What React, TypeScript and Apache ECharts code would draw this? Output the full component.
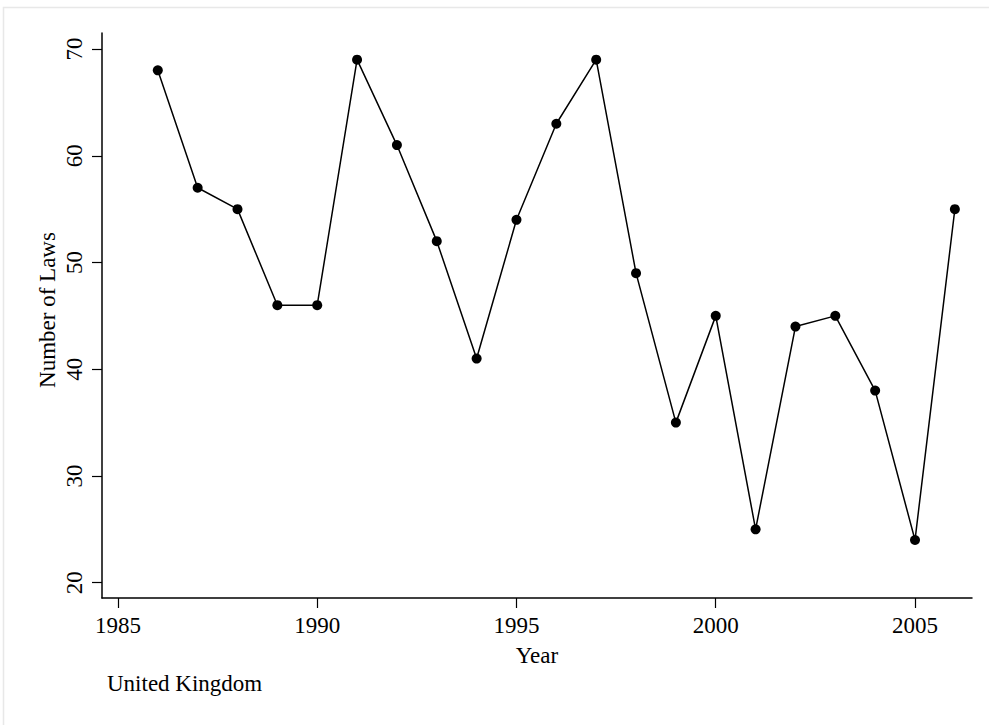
import React, { useEffect, useRef } from "react";
import * as echarts from "echarts";

const years = [1986, 1987, 1988, 1989, 1990, 1991, 1992, 1993, 1994, 1995, 1996, 1997, 1998, 1999, 2000, 2001, 2002, 2003, 2004, 2005, 2006];
const laws = [68, 57, 55, 46, 46, 69, 61, 52, 41, 54, 63, 69, 49, 35, 45, 25, 44, 45, 38, 24, 55];
const xTicks = [1985, 1990, 1995, 2000, 2005];
const yTicks = [20, 30, 40, 50, 60, 70];

const FONT = "'Liberation Serif', 'Times New Roman', serif";

export default function App() {
  const ref = useRef<HTMLDivElement>(null);
  useEffect(() => {
    if (!ref.current) return;
    const chart = echarts.init(ref.current, undefined, { renderer: "svg" });
    chart.setOption({
      animation: false,
      backgroundColor: "#ffffff",
      grid: { left: 102, top: 33, right: 17, bottom: 127, containLabel: false },
      xAxis: {
        type: "value",
        min: 1984.6,
        max: 2006.43,
        axisLine: { show: true, lineStyle: { color: "#000", width: 1.5 } },
        axisTick: { show: true, length: 10, customValues: xTicks, lineStyle: { color: "#000", width: 1.2 } },
        axisLabel: {
          customValues: xTicks,
          formatter: (v: number) => String(Math.round(v)),
          color: "#000",
          fontFamily: FONT,
          fontSize: 23,
          margin: 16,
        },
        splitLine: { show: false },
      },
      yAxis: {
        type: "value",
        min: 18.57,
        max: 71.5,
        axisLine: { show: true, lineStyle: { color: "#000", width: 1.5 } },
        axisTick: { show: true, length: 10, customValues: yTicks, lineStyle: { color: "#000", width: 1.2 } },
        axisLabel: {
          customValues: yTicks,
          formatter: (v: number) => String(Math.round(v)),
          color: "#000",
          fontFamily: FONT,
          fontSize: 23,
          rotate: 90,
          margin: 16,
        },
        splitLine: { show: false },
      },
      graphic: [
        {
          type: "rect",
          shape: { x: 3.5, y: 7.5, width: 1000, height: 800 },
          style: { fill: "none", stroke: "#e8e8e8", lineWidth: 1.5 },
          silent: true,
          z: -10,
        },
        {
          type: "text",
          x: 537,
          y: 655,
          style: { text: "Year", font: `23px ${FONT}`, fill: "#000", align: "center", verticalAlign: "middle" },
        },
        {
          type: "text",
          x: 47,
          y: 310,
          rotation: Math.PI / 2,
          style: { text: "Number of Laws", font: `23px ${FONT}`, fill: "#000", align: "center", verticalAlign: "middle" },
        },
        {
          type: "text",
          x: 107,
          y: 683,
          style: { text: "United Kingdom", font: `23px ${FONT}`, fill: "#000", align: "left", verticalAlign: "middle" },
        },
      ],
      series: [
        {
          type: "line",
          data: years.map((y, i) => [y, laws[i]]),
          symbol: "circle",
          symbolSize: 10,
          lineStyle: { color: "#000", width: 1.5 },
          itemStyle: { color: "#000" },
        },
      ],
    });
    return () => chart.dispose();
  }, []);
  return <div ref={ref} style={{ position: "fixed", left: 0, top: 0, width: 989, height: 725 }} />;
}
